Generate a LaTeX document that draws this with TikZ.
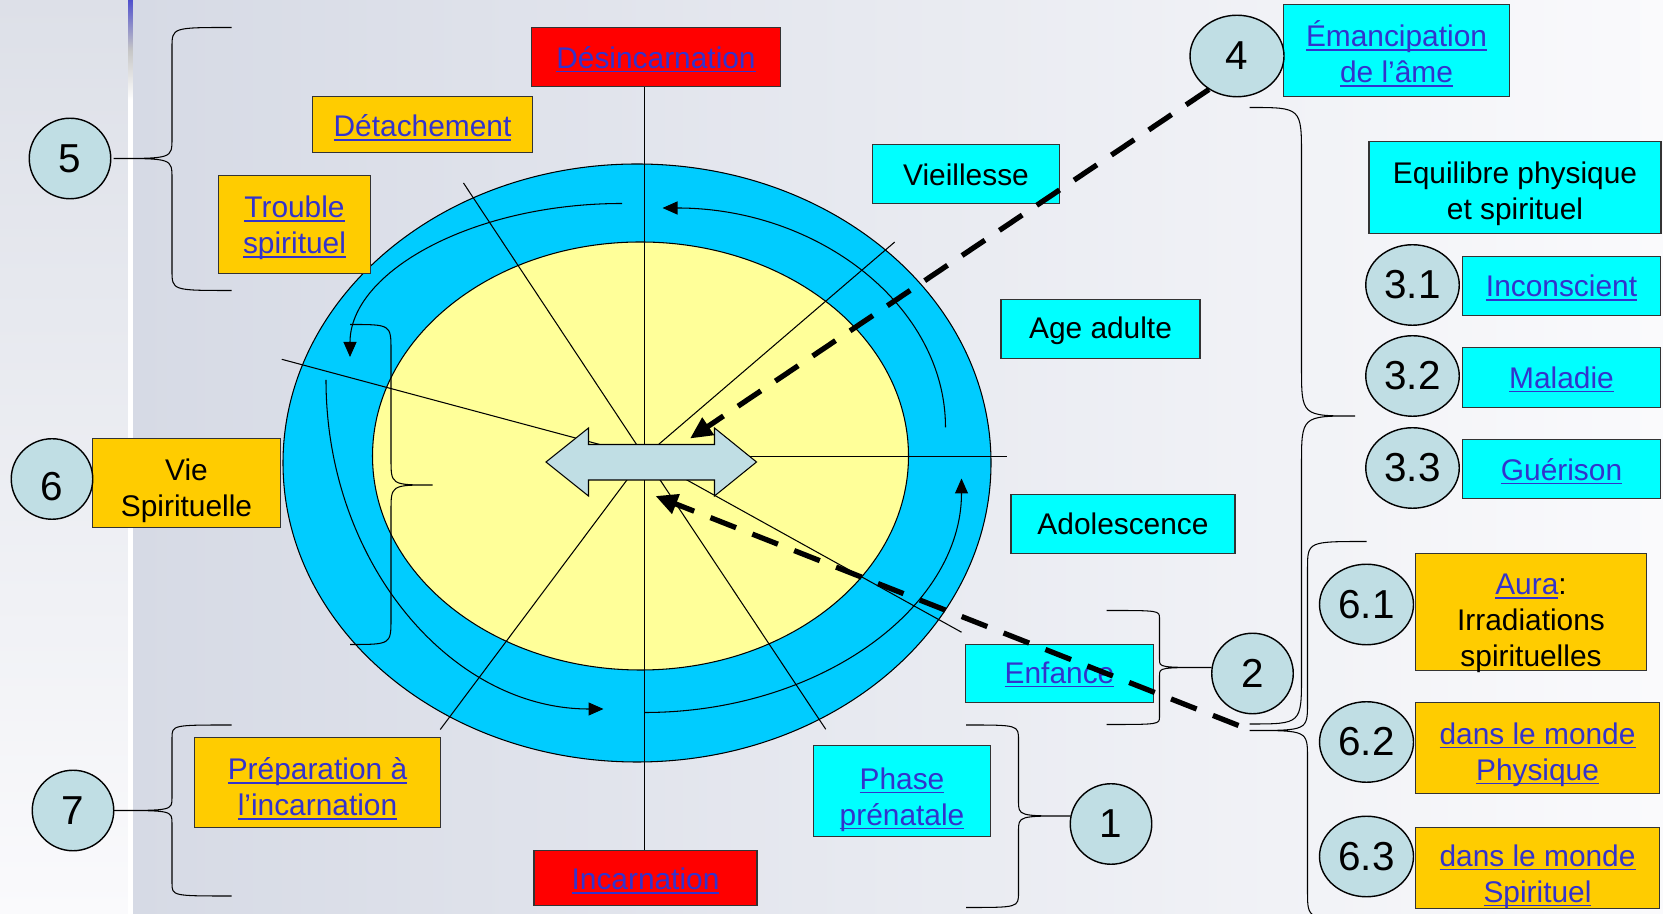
\documentclass[tikz,border=0pt]{standalone}
\usepackage{fontspec}
\setmainfont{Liberation Sans}
\usepackage{tikz}
\usetikzlibrary{shapes.geometric, arrows.meta, calc}
\definecolor{cyanvif}{RGB}{0,255,255}
\definecolor{orvif}{RGB}{255,204,0}
\definecolor{rougevif}{RGB}{255,0,0}
\definecolor{anneau}{RGB}{0,204,255}
\definecolor{jaunepale}{RGB}{255,255,153}
\definecolor{bleupastille}{RGB}{192,222,228}
\definecolor{lienbleu}{RGB}{51,51,204}
\definecolor{fondgauche}{RGB}{214,218,229}
\definecolor{fonddroit}{RGB}{250,250,252}
\definecolor{fondhaut}{RGB}{221,224,232}

% underlined link text
\newcommand{\lnk}[1]{\textcolor{lienbleu}{\setbox0\hbox{#1}\rlap{\rule[-0.14em]{\wd0}{0.05em}}\box0}}
% box text, lowered a little
\newcommand{\bas}[2]{\raisebox{-#1}[\height][\depth]{\begin{tabular}{@{}c@{}}#2\end{tabular}}}
% brace: x ends, x spine, x tip, y top, y tip, y bottom, corner
\newcommand{\accolade}[7]{\draw[thin] (#1,#4) .. controls (#2,#4) .. (#2,#4-#7) -- (#2,#5+#7) .. controls (#2,#5) .. (#3,#5)
  .. controls (#2,#5) .. (#2,#5-#7) -- (#2,#6+#7) .. controls (#2,#6) .. (#1,#6);}

\begin{document}
\begin{tikzpicture}[
  boite/.style={draw=black!80, line width=0.8pt, inner sep=1pt, font=\fontsize{17}{20.5}\selectfont},
  cyanbox/.style={boite, fill=cyanvif},
  orbox/.style={boite, fill=orvif},
  rougebox/.style={boite, fill=rougevif},
  pastille/.style={ellipse, draw, line width=0.8pt, fill=bleupastille, inner sep=0pt, minimum width=1.63cm, minimum height=1.61cm, font=\fontsize{23}{26}\selectfont},
  fleche/.style={line width=0.6pt, -{Triangle[length=3mm,width=2.6mm]}},
  tiret/.style={line width=3pt, dash pattern=on 5.5mm off 3.5mm, -{Triangle[length=4.4mm,width=4mm]}},
  thin/.style={line width=0.6pt}
]
\useasboundingbox (0,0) rectangle (33.26,18.28);

% Background
\shade[top color=fondhaut, bottom color=fonddroit] (0,0) rectangle (2.56,18.28);
\fill[white] (2.56,0) rectangle (2.66,18.28);
\shade[top color={rgb,255:red,80;green,80;blue,205}, bottom color=white, middle color=gray!45] (2.56,16.28) rectangle (2.66,18.28);
\shade[left color=fondgauche, right color=fonddroit] (2.66,0) rectangle (33.26,18.28);

% Rings
\draw[thin, fill=anneau] (12.74,9.02) ellipse [x radius=7.08, y radius=5.98];
\draw[thin, fill=jaunepale] (12.81,9.16) ellipse [x radius=5.36, y radius=4.28];
\coordinate (ctr) at (12.89,9.15);

% Radial lines
\foreach \ang/\len in {0/7.25, 40.6/6.59, 123.5/6.56, -56.4/6.55, 165/7.51, -29/7.25, 233.2/6.82}
  \draw[thin] (ctr) -- ++(\ang:\len);

% Cycle arcs
\draw[fleche] (18.91,9.73) arc[start angle=0, end angle=90, x radius=5.66, y radius=4.39];
\draw[fleche] (12.44,14.21) arc[start angle=90, end angle=180, x radius=5.44, y radius=3.07];
\draw[fleche] (6.52,10.68) arc[start angle=180, end angle=270, x radius=5.55, y radius=6.58];
\draw[fleche] (12.89,4.03) arc[start angle=270, end angle=360, x radius=6.34, y radius=4.68];

% Birth and death
\node[rougebox, minimum width=4.98cm, minimum height=1.17cm] (desinc) at (13.12,17.14) {\bas{0.08cm}{\lnk{Désincarnation}}};
\node[rougebox, minimum width=4.46cm, minimum height=1.10cm] (incarn) at (12.91,0.72) {\bas{0.09cm}{\lnk{Incarnation}}};
\draw[thin] (ctr |- desinc.south) -- (ctr |- incarn.north);

% Double arrow
\filldraw[thin, fill=bleupastille] (10.92,9.04) -- (11.77,9.72) -- (11.77,9.39) -- (14.29,9.39) -- (14.29,9.72) -- (15.13,9.04)
  -- (14.29,8.36) -- (14.29,8.68) -- (11.77,8.68) -- (11.77,8.36) -- cycle;

% Life stages
\node[cyanbox, minimum width=3.53cm, minimum height=1.82cm] (phase) at (18.04,2.46) {\bas{0.18cm}{\lnk{Phase}\\\lnk{prénatale}}};
\node[cyanbox, minimum width=3.75cm, minimum height=1.15cm] (enfance) at (21.19,4.81) {\bas{0.05cm}{\lnk{Enfance}}};
\node[cyanbox, minimum width=4.48cm, minimum height=1.17cm] (ado) at (22.46,7.80) {\bas{0.07cm}{Adolescence}};
\node[cyanbox, minimum width=3.98cm, minimum height=1.19cm] (adulte) at (22.01,11.70) {\bas{0.04cm}{Age adulte}};
\node[cyanbox, minimum width=3.74cm, minimum height=1.18cm] (vieil) at (19.32,14.80) {\bas{0.08cm}{Vieillesse}};

% Spiritual side
\node[orbox, minimum width=4.39cm, minimum height=1.13cm] (detach) at (8.45,15.79) {\bas{0.10cm}{\lnk{Détachement}}};
\node[orbox, minimum width=3.03cm, minimum height=1.95cm] (trouble) at (5.89,13.79) {\bas{0.08cm}{\lnk{Trouble}\\\lnk{spirituel}}};
\node[orbox, minimum width=3.75cm, minimum height=1.77cm] (viespi) at (3.73,8.62) {\bas{0.16cm}{Vie\\Spirituelle}};
\node[orbox, minimum width=4.92cm, minimum height=1.79cm] (prep) at (6.35,2.63) {\bas{0.16cm}{\lnk{Préparation à}\\\lnk{l’incarnation}}};

% Right column
\node[cyanbox, minimum width=4.51cm, minimum height=1.85cm] (emanc) at (27.93,17.27) {\bas{0.13cm}{\lnk{Émancipation}\\\lnk{de l'âme}}};
\node[cyanbox, minimum width=5.84cm, minimum height=1.83cm] (equil) at (30.30,14.53) {\bas{0.13cm}{Equilibre physique\\et spirituel}};
\node[cyanbox, minimum width=3.97cm, minimum height=1.19cm] (incons) at (31.23,12.56) {\bas{0.07cm}{\lnk{Inconscient}}};
\node[cyanbox, minimum width=3.97cm, minimum height=1.19cm] (malad) at (31.23,10.73) {\bas{0.07cm}{\lnk{Maladie}}};
\node[cyanbox, minimum width=3.97cm, minimum height=1.19cm] (gueri) at (31.23,8.90) {\bas{0.08cm}{\lnk{Guérison}}};
\node[orbox, minimum width=4.62cm, minimum height=2.35cm] (aura) at (30.62,6.04) {\bas{0.23cm}{\lnk{Aura}:\\Irradiations\\spirituelles}};
\node[orbox, minimum width=4.87cm, minimum height=1.82cm] (monde1) at (30.75,3.32) {\bas{0.14cm}{\lnk{dans le monde}\\\lnk{Physique}}};
\node[orbox, minimum width=4.87cm, minimum height=1.61cm] (monde2) at (30.75,0.92) {\bas{0.18cm}{\lnk{dans le monde}\\\lnk{Spirituel}}};

% Numbered circles
\node[pastille] (c5) at (1.40,15.11) {5};
\node[pastille] (c6) at (1.04,8.70) {\raisebox{-0.16cm}[\height][\depth]{6}};
\node[pastille] (c7) at (1.46,2.07) {7};
\node[pastille] (c1) at (22.22,1.80) {1};
\node[pastille] (c2) at (25.05,4.81) {2};
\node[pastille, minimum width=1.88cm, minimum height=1.63cm] (c4) at (24.74,17.16) {4};
\node[pastille, minimum width=1.87cm] (c31) at (28.25,12.58) {3.1};
\node[pastille, minimum width=1.87cm] (c32) at (28.25,10.76) {3.2};
\node[pastille, minimum width=1.87cm] (c33) at (28.25,8.92) {3.3};
\node[pastille, minimum width=1.88cm] (c61) at (27.33,6.19) {6.1};
\node[pastille, minimum width=1.88cm] (c62) at (27.33,3.44) {6.2};
\node[pastille, minimum width=1.88cm] (c63) at (27.33,1.15) {6.3};

% Braces
\accolade{4.63}{3.44}{2.27}{17.73}{15.11}{12.47}{0.4}
\accolade{4.63}{3.44}{2.27}{3.78}{2.07}{0.36}{0.26}
\accolade{7.00}{7.82}{8.65}{11.79}{8.58}{5.39}{0.52}
\accolade{19.32}{20.37}{21.41}{3.78}{1.96}{0.13}{0.3}
\accolade{22.13}{23.19}{24.23}{6.07}{4.93}{3.79}{0.16}
\accolade{24.99}{26.03}{27.10}{16.13}{9.96}{3.80}{0.98}
\accolade{27.33}{26.15}{24.99}{7.45}{3.67}{-0.11}{0.55}

% Dashed links
\coordinate (pointeA) at (13.80,9.51);
\coordinate (departB) at (24.77,3.77);
\coordinate (pointeB) at (13.11,8.36);
\draw[tiret] (c4.230) -- (pointeA);
\draw[tiret] (departB) -- (pointeB);
\end{tikzpicture}
\end{document}
